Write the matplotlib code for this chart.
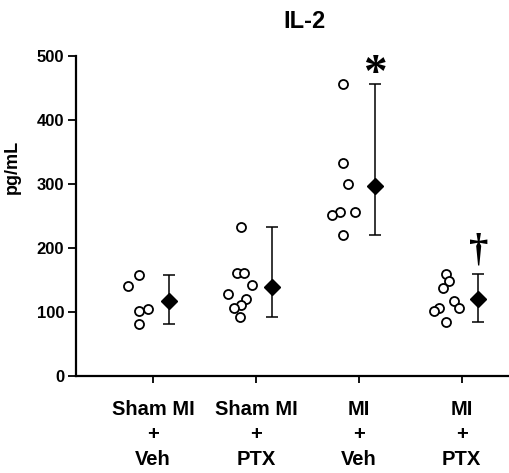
import matplotlib.pyplot as plt
import numpy as np

plt.rcParams['font.family'] = ['Liberation Sans', 'DejaVu Sans']
plt.rcParams['font.weight'] = 'bold'

# 各组标签与数据 (pg/mL)
groups = ['Sham MI\n+\nVeh', 'Sham MI\n+\nPTX', 'MI\n+\nVeh', 'MI\n+\nPTX']
sham_veh = [158, 140, 102, 105, 81]
sham_ptx = [161, 161, 142, 128, 121, 111, 107, 93, 233]
mi_veh = [456, 333, 300, 257, 252, 257, 221]
mi_ptx = [159, 148, 138, 118, 107, 106, 102, 84]
values = [sham_veh, sham_ptx, mi_veh, mi_ptx]

# 散点的水平偏移
jitter = [
    [-0.14, -0.24, -0.14, -0.05, -0.14],
    [-0.18, -0.12, -0.04, -0.27, -0.10, -0.15, -0.21, -0.16, -0.15],
    [-0.15, -0.15, -0.11, -0.18, -0.26, -0.04, -0.15],
    [-0.15, -0.12, -0.18, -0.07, -0.03, -0.22, -0.27, -0.15],
]

fig = plt.figure(figsize=(5.10, 4.73), dpi=100)
ax = fig.add_axes([0.149, 0.205, 0.851, 0.6765])

for i, (vals, jit) in enumerate(zip(values, jitter)):
    pos = i + 1
    ax.plot(pos + np.array(jit), vals, 'o', ms=6.5, mfc='white',
            mec='black', mew=1.3, linestyle='none', zorder=3)
    v = np.array(vals)
    m = v.mean()
    ax.errorbar(pos + 0.155, m, yerr=[[m - v.min()], [v.max() - m]],
                fmt='D', ms=8.5, color='black', ecolor='black',
                elinewidth=1.1, capsize=4.5, capthick=1.1, zorder=4)

# 显著性标记
ax.text(3.155, 470, '*', fontsize=34, ha='center', va='center',
        family='Liberation Serif', fontweight='bold')
ax.text(4.165, 195, '\u2020', fontsize=28, ha='center', va='center',
        family='Liberation Serif', fontweight='bold')

ax.set_xlim(0.25, 4.47)
ax.set_ylim(0, 500)
ax.set_yticks(range(0, 501, 100))
ax.set_xticks([1, 2, 3, 4])
ax.set_xticklabels(groups, fontsize=14.5, fontweight='bold', linespacing=1.42)
ax.tick_params(axis='y', labelsize=12, width=1.3, length=5.5, pad=3)
ax.tick_params(axis='x', width=1.3, length=5, pad=12)

ax.spines['top'].set_visible(False)
ax.spines['right'].set_visible(False)
ax.spines['left'].set_linewidth(1.6)
ax.spines['bottom'].set_linewidth(1.6)

ax.set_ylabel('pg/mL', fontsize=13, fontweight='bold')
ax.yaxis.set_label_coords(-0.127, 0.653)

fig.text(305 / 510, 1 - 22 / 473, 'IL-2', fontsize=17, fontweight='bold',
         ha='center', va='center')

fig.savefig('out.png', dpi=100)
